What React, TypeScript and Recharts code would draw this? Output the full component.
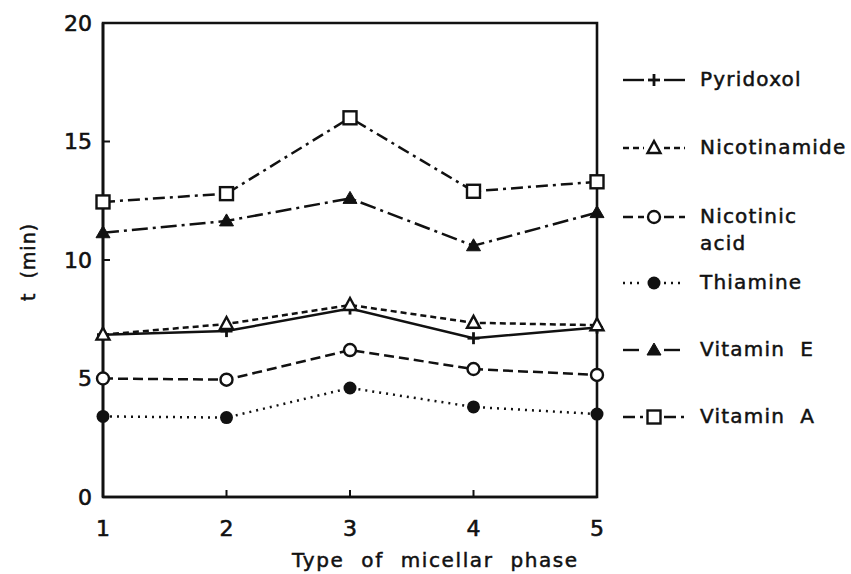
import React from "react";
import { LineChart, Line, XAxis, YAxis, ReferenceArea } from "recharts";

// type of micellar phase (x) and retention times t in min (y)
const phases = [1, 2, 3, 4, 5];
const pyridoxol = [6.85, 7.0, 7.95, 6.7, 7.15];
const nicotinamide = [6.85, 7.3, 8.1, 7.35, 7.25];
const nicotinicAcid = [5.0, 4.95, 6.2, 5.4, 5.15];
const thiamine = [3.4, 3.35, 4.6, 3.8, 3.5];
const vitaminE = [11.15, 11.65, 12.6, 10.6, 12.0];
const vitaminA = [12.45, 12.8, 16.0, 12.9, 13.3];
const yTicks = [0, 5, 10, 15, 20];

const FONT = "'DejaVu Sans', sans-serif";
const INK = "#111";

type MarkerKind = "plus" | "openTriangle" | "openCircle" | "filledCircle" | "filledTriangle" | "openSquare";

const series: { key: string; name: string[]; values: number[]; dash?: string; marker: MarkerKind }[] = [
  { key: "pyridoxol", name: ["Pyridoxol"], values: pyridoxol, marker: "plus" },
  { key: "nicotinamide", name: ["Nicotinamide"], values: nicotinamide, dash: "6 4", marker: "openTriangle" },
  { key: "nicotinicAcid", name: ["Nicotinic", "acid"], values: nicotinicAcid, dash: "10 5", marker: "openCircle" },
  { key: "thiamine", name: ["Thiamine"], values: thiamine, dash: "2 5", marker: "filledCircle" },
  { key: "vitaminE", name: ["Vitamin  E"], values: vitaminE, dash: "16 5 3 5", marker: "filledTriangle" },
  { key: "vitaminA", name: ["Vitamin  A"], values: vitaminA, dash: "12 5 3 5", marker: "openSquare" },
];

const data = phases.map((p, i) => {
  const row: Record<string, number> = { phase: p };
  series.forEach((s) => {
    row[s.key] = s.values[i];
  });
  return row;
});

function Marker({ kind, cx, cy }: { kind: MarkerKind; cx: number; cy: number }) {
  const sw = 2.4;
  switch (kind) {
    case "plus":
      return (
        <g stroke={INK} strokeWidth={2.8}>
          <line x1={cx - 6} y1={cy} x2={cx + 6} y2={cy} />
          <line x1={cx} y1={cy - 6} x2={cx} y2={cy + 6} />
        </g>
      );
    case "openTriangle":
      return (
        <polygon
          points={`${cx},${cy - 7} ${cx - 6.5},${cy + 5} ${cx + 6.5},${cy + 5}`}
          fill="#fff"
          stroke={INK}
          strokeWidth={sw}
        />
      );
    case "filledTriangle":
      return (
        <polygon
          points={`${cx},${cy - 7} ${cx - 7},${cy + 5} ${cx + 7},${cy + 5}`}
          fill={INK}
          stroke={INK}
          strokeWidth={1}
        />
      );
    case "openCircle":
      return <circle cx={cx} cy={cy} r={6} fill="#fff" stroke={INK} strokeWidth={sw} />;
    case "filledCircle":
      return <circle cx={cx} cy={cy} r={6.5} fill={INK} />;
    case "openSquare":
      return <rect x={cx - 6.5} y={cy - 6.5} width={13} height={13} fill="#fff" stroke={INK} strokeWidth={sw} />;
  }
}

function LegendSymbol({ dash, marker }: { dash?: string; marker: MarkerKind }) {
  return (
    <svg width={70} height={22} style={{ display: "block" }}>
      <line x1={2} y1={11} x2={23} y2={11} stroke={INK} strokeWidth={2.4} strokeDasharray={dash} />
      <line x1={43} y1={11} x2={64} y2={11} stroke={INK} strokeWidth={2.4} strokeDasharray={dash} />
      <Marker kind={marker} cx={33} cy={11} />
    </svg>
  );
}

const legendTops = [80, 148, 217, 283, 350, 417];
const textHeavy = { WebkitTextStroke: "0.5px #111" } as React.CSSProperties;

export default function App() {
  return (
    <div style={{ position: "absolute", left: 0, top: 0, width: 851, height: 574, background: "#fff", fontFamily: FONT }}>
      <LineChart width={851} height={574} data={data} margin={{ top: 23, right: 254, bottom: 27, left: 43 }}>
        <XAxis
          dataKey="phase"
          type="number"
          domain={[1, 5]}
          ticks={phases}
          tickSize={-7}
          tickMargin={30}
          height={50}
          stroke={INK}
          axisLine={{ stroke: INK, strokeWidth: 2.6 }}
          tickLine={{ stroke: INK, strokeWidth: 2 }}
          tick={{ fill: INK, fontSize: 22, fontFamily: FONT, stroke: INK, strokeWidth: 0.6 }}
        />
        <YAxis
          type="number"
          domain={[0, 20]}
          ticks={yTicks}
          tickSize={-7}
          tickMargin={18}
          width={60}
          stroke={INK}
          axisLine={{ stroke: INK, strokeWidth: 2.6 }}
          tickLine={{ stroke: INK, strokeWidth: 2 }}
          tick={{ fill: INK, fontSize: 22, fontFamily: FONT, stroke: INK, strokeWidth: 0.6 }}
        />
        <ReferenceArea x1={1} x2={5} y1={0} y2={20} fill="none" stroke={INK} strokeWidth={2.6} />
        {series.map((s) => (
          <Line
            key={s.key}
            type="linear"
            dataKey={s.key}
            stroke={INK}
            strokeWidth={2.5}
            strokeDasharray={s.dash}
            isAnimationActive={false}
            dot={(p: any) => <Marker key={`${s.key}-${p.index}`} kind={s.marker} cx={p.cx} cy={p.cy} />}
            activeDot={false}
          />
        ))}
      </LineChart>

      <div
        style={{
          position: "absolute",
          left: 12,
          top: 262,
          transform: "translate(-50%, -50%) rotate(-90deg)",
          transformOrigin: "center",
          marginLeft: 16,
          fontSize: 19,
          letterSpacing: 1,
          color: INK,
          whiteSpace: "pre",
          ...textHeavy,
        }}
      >
        {"t  (min)"}
      </div>

      <div
        style={{
          position: "absolute",
          left: 292,
          top: 548,
          fontSize: 20,
          letterSpacing: 1.6,
          wordSpacing: 9,
          color: INK,
          whiteSpace: "nowrap",
          ...textHeavy,
        }}
      >
        Type of micellar phase
      </div>

      {series.map((s, i) => (
        <div key={s.key} style={{ position: "absolute", left: 621, top: legendTops[i] - 11, display: "flex", alignItems: "flex-start" }}>
          <LegendSymbol dash={s.dash} marker={s.marker} />
          <div
            style={{
              marginLeft: 9,
              fontSize: 20,
              letterSpacing: 1.2,
              lineHeight: "27px",
              marginTop: -3,
              color: INK,
              whiteSpace: "pre",
              ...textHeavy,
            }}
          >
            {s.name.map((n) => (
              <div key={n}>{n}</div>
            ))}
          </div>
        </div>
      ))}
    </div>
  );
}
